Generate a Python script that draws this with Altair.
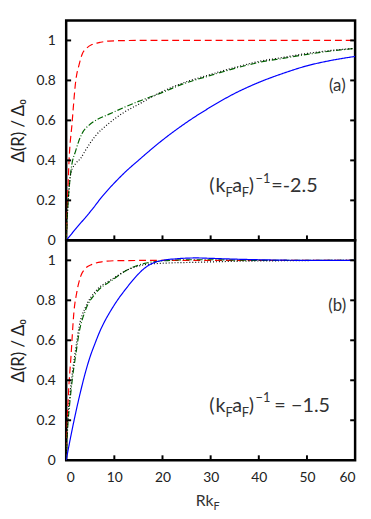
import altair as alt
import pandas as pd

# ---------------- data ----------------
x_ticks = [0, 10, 20, 30, 40, 50, 60]
y_ticks = [0, 0.2, 0.4, 0.6, 0.8, 1.0]
inner_x_ticks = [10, 20, 30, 40, 50]
side_y_ticks = [0.2, 0.4, 0.6, 0.8, 1.0]

# panel (a): (k_F a_F)^-1 = -2.5
red_a_x = [0, 0.27, 0.6, 1.2, 2.0, 2.7, 3.3, 4.2, 5.4, 7.0, 8.8, 15, 30, 60]
red_a_y = [0.0, 0.19, 0.40, 0.58, 0.80, 0.88, 0.93, 0.96, 0.98, 0.99, 0.997, 1.0, 1.0, 1.0]
green_a_x = [0, 0.3, 1.0, 2.0, 3.3, 4.7, 6.5, 8.8, 12, 15, 20, 24, 30, 35, 40, 45, 50, 55, 60]
green_a_y = [0.0, 0.15, 0.35, 0.45, 0.535, 0.575, 0.605, 0.63, 0.665, 0.695, 0.74, 0.78, 0.825, 0.86, 0.89, 0.91, 0.93, 0.947, 0.96]
black_a_x = [0, 0.3, 1.0, 2.0, 3.0, 4.0, 6.0, 8.8, 12, 15, 20, 24, 30, 35, 40, 45, 50, 55, 60]
black_a_y = [0.0, 0.15, 0.34, 0.385, 0.41, 0.45, 0.52, 0.584, 0.64, 0.68, 0.745, 0.785, 0.83, 0.865, 0.895, 0.915, 0.935, 0.95, 0.96]
blue_a_x = [0, 2.0, 5.4, 7.5, 10, 12.5, 15, 19.4, 25, 30, 35, 40, 45, 50, 55, 60]
blue_a_y = [0.0, 0.058, 0.155, 0.22, 0.287, 0.347, 0.40, 0.49, 0.59, 0.667, 0.735, 0.79, 0.835, 0.873, 0.90, 0.92]

# panel (b): (k_F a_F)^-1 = -1.5
red_b_x = [0, 0.07, 0.47, 1.0, 1.6, 2.2, 3.0, 4.0, 5.4, 7.5, 10, 20, 60]
red_b_y = [0.0, 0.08, 0.33, 0.52, 0.74, 0.84, 0.92, 0.96, 0.98, 0.993, 0.998, 1.0, 1.0]
green_b_x = [0, 0.27, 0.8, 1.3, 2.0, 2.7, 4.0, 6.1, 9.5, 12.9, 16.3, 20, 25, 30, 40, 60]
green_b_y = [0.0, 0.145, 0.30, 0.41, 0.53, 0.64, 0.75, 0.835, 0.90, 0.955, 0.985, 0.997, 1.003, 1.003, 1.0, 1.0]
black_b_x = [0, 0.27, 0.8, 1.3, 2.0, 2.7, 4.0, 6.1, 9.5, 12.9, 16.3, 19.7, 26.6, 35, 45, 60]
black_b_y = [0.0, 0.17, 0.33, 0.44, 0.56, 0.67, 0.765, 0.845, 0.905, 0.954, 0.978, 0.985, 0.99, 0.995, 0.998, 1.0]
blue_b_x = [0, 1, 2, 3, 4, 5, 6, 7, 8, 9, 10, 11, 12, 13, 14, 15, 16, 17, 18, 20, 23, 27, 30, 35, 40, 50, 60]
blue_b_y = [0.0, 0.125, 0.24, 0.345, 0.44, 0.52, 0.585, 0.645, 0.695, 0.738, 0.777, 0.813, 0.845, 0.876, 0.905, 0.932, 0.955, 0.973, 0.986, 1.0, 1.008, 1.012, 1.01, 1.006, 1.003, 1.0, 1.0]

# ---------------- styles ----------------
W, H = 293, 223
FONT = "Lato"
TXT = "#333333"
STYLES = {
    "red": dict(color="#ff0000", strokeDash=[7, 4]),
    "green": dict(color="#006400", strokeDash=[6, 2, 1, 2]),
    "black": dict(color="#000000", strokeDash=[1, 2]),
    "blue": dict(color="#0000ff", strokeDash=[1, 0]),
}

xsc = alt.Scale(domain=[0, 60], nice=False, zero=False)
ysc = alt.Scale(domain=[0, 1.1], nice=False, zero=False)

yaxis = alt.Axis(values=y_ticks, format="~g", ticks=False, domain=False, grid=False,
                 labelFont=FONT, labelFontSize=14, labelColor="#222", labelPadding=11,
                 title="Δ(R) / Δ₀", titleFont=FONT, titleFontSize=17, titleFontWeight="normal",
                 titleColor="#222", titlePadding=9)


def annotation(pieces, ax, ay):
    out = []
    df = pd.DataFrame({"x": [ax], "y": [ay]})
    for txt, dx, dy, fs in pieces:
        out.append(alt.Chart(df).mark_text(text=txt, align="left", baseline="alphabetic",
                                           dx=dx, dy=dy, fontSize=fs, font=FONT, color=TXT)
                   .encode(x=alt.X("x:Q", scale=xsc), y=alt.Y("y:Q", scale=ysc)))
    return out


def panel(series, tag, pieces, bottom):
    xaxis = (alt.Axis(values=x_ticks, ticks=False, domain=False, grid=False, labelFont=FONT,
                      labelFontSize=14, labelColor="#222", labelPadding=11, title=None)
             if bottom else None)
    layers = []
    for name, xs, ys in series:
        df = pd.DataFrame({"x": xs, "y": ys})
        layers.append(alt.Chart(df).mark_line(clip=True, interpolate="monotone", strokeWidth=1.2,
                                              **STYLES[name])
                      .encode(x=alt.X("x:Q", scale=xsc, axis=xaxis),
                              y=alt.Y("y:Q", scale=ysc, axis=yaxis)))
    # inward ticks
    ty = pd.DataFrame({"v": side_y_ticks})
    tx = pd.DataFrame({"v": inner_x_ticks})
    layers.append(alt.Chart(ty).mark_rule(color="black", strokeWidth=2)
                  .encode(y=alt.Y("v:Q", scale=ysc), x=alt.value(0), x2=alt.value(5)))
    layers.append(alt.Chart(ty).mark_rule(color="black", strokeWidth=2)
                  .encode(y=alt.Y("v:Q", scale=ysc), x=alt.value(W - 5), x2=alt.value(W)))
    layers.append(alt.Chart(tx).mark_rule(color="black", strokeWidth=2)
                  .encode(x=alt.X("v:Q", scale=xsc), y=alt.value(H - 5), y2=alt.value(H)))
    # panel tag
    tdf = pd.DataFrame({"x": [56.3], "y": [0.77], "t": [tag]})
    layers.append(alt.Chart(tdf).mark_text(align="center", baseline="middle", fontSize=17,
                                           font=FONT, color=TXT)
                  .encode(x=alt.X("x:Q", scale=xsc), y=alt.Y("y:Q", scale=ysc), text="t:N"))
    layers += annotation(pieces, 29.7, 0.24)
    if bottom:
        xt = pd.DataFrame({"x": [30.0]})
        layers.append(alt.Chart(xt).mark_text(text="Rk", align="right", baseline="alphabetic",
                                              dx=3, fontSize=16, font=FONT, color=TXT)
                      .encode(x=alt.X("x:Q", scale=xsc), y=alt.value(H + 46)))
        layers.append(alt.Chart(xt).mark_text(text="F", align="left", baseline="alphabetic",
                                              dx=3, dy=4, fontSize=11, font=FONT, color=TXT)
                      .encode(x=alt.X("x:Q", scale=xsc), y=alt.value(H + 46)))
    return alt.layer(*layers).properties(width=W, height=H)


pieces_a = [("(", 0, 0, 20), ("k", 6.5, 0, 20), ("F", 16.5, 5, 13), ("a", 23.5, 0, 20),
            ("F", 33, 5, 13), (")", 40, 0, 20), ("−1", 47, -10, 13), ("=-2.5", 63, 0, 20)]
pieces_b = [("(", 0, 0, 20), ("k", 6.5, 0, 20), ("F", 16.5, 5, 13), ("a", 23.5, 0, 20),
            ("F", 33, 5, 13), (")", 40, 0, 20), ("−1", 47, -10, 13), ("=", 66, 0, 20),
            ("−1.5", 83, 0, 20)]

top = panel([("red", red_a_x, red_a_y), ("green", green_a_x, green_a_y),
             ("black", black_a_x, black_a_y), ("blue", blue_a_x, blue_a_y)],
            "(a)", pieces_a, False)
bot = panel([("red", red_b_x, red_b_y), ("green", green_b_x, green_b_y),
             ("black", black_b_x, black_b_y), ("blue", blue_b_x, blue_b_y)],
            "(b)", pieces_b, True)

chart = (alt.vconcat(top, bot, spacing=0, bounds="flush")
         .properties(padding={"left": 0, "top": 7, "right": 5, "bottom": 5})
         .configure_view(stroke="black", strokeWidth=2.5))

chart.save("out.html", embed_options={"renderer": "svg", "actions": False})
